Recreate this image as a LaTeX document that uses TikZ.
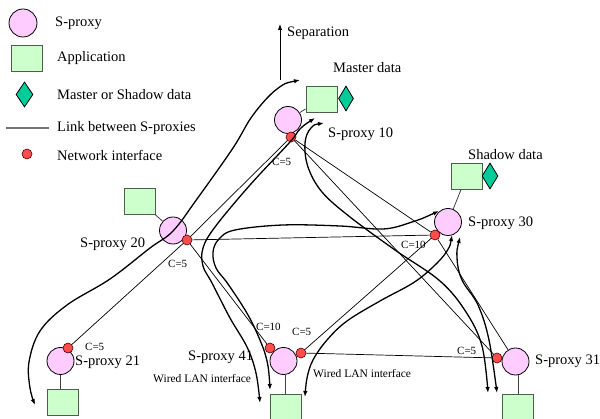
\documentclass[tikz,border=0pt]{standalone}
\usepackage{fontspec}
\setmainfont{Liberation Serif}
\usepackage{xcolor}
\usetikzlibrary{arrows.meta, shapes.geometric}
\definecolor{proxypink}{RGB}{255, 204, 255}
\definecolor{appgreen}{RGB}{204, 255, 204}
\definecolor{appedge}{RGB}{75, 95, 75}
\definecolor{datateal}{RGB}{0, 204, 153}
\definecolor{ifacered}{RGB}{255, 77, 77}

\begin{document}
\begin{tikzpicture}[x=1pt, y=-1pt,
  >={Latex[length=6pt, width=4.5pt]},
  proxy/.style={circle, draw=black, fill=proxypink, line width=0.8pt, minimum size=27pt, inner sep=0pt},
  appbox/.style={rectangle, draw=appedge, fill=appgreen, line width=0.9pt, minimum width=31pt, minimum height=26pt, inner sep=0pt},
  datatag/.style={diamond, draw=black, fill=datateal, line width=0.8pt, minimum width=16pt, minimum height=25pt, inner sep=0pt},
  iface/.style={circle, draw=black!70!red, fill=ifacered, line width=0.6pt, minimum size=10pt, inner sep=0pt},
  link/.style={draw=black, line width=0.7pt},
  appline/.style={draw=black!75, line width=0.8pt},
  flow/.style={draw=black, line width=1.3pt, <->},
  lbl/.style={anchor=west, inner sep=0pt, font=\fontsize{14.5}{16}\selectfont},
  costlbl/.style={anchor=west, inner sep=0pt, font=\fontsize{11}{12}\selectfont},
  lanlbl/.style={anchor=west, inner sep=0pt, font=\fontsize{11.5}{13}\selectfont}]
\useasboundingbox (0,0) rectangle (600,419);

% legend
\node[proxy, minimum size=28pt] (lgproxy) at (23,23) {};
\node[lbl] at (55,23) {S-proxy};
\node[appbox] (lgapp) at (26.5,58) {};
\node[lbl] at (57,58) {Application};
\node[datatag, minimum width=17pt] (lgdata) at (24.5,94.5) {};
\node[lbl] at (57,95) {Master or Shadow data};
\coordinate (lglinka) at (6,128);
\coordinate (lglinkb) at (49,128);
\draw[draw=black!55, line width=1.4pt] (lglinka) -- (lglinkb);
\node[lbl] at (57,128) {Link between S-proxies};
\node[iface] (lgiface) at (27,154) {};
\node[lbl] at (57,155) {Network interface};

% separation
\coordinate (sepfoot) at (280,80);
\coordinate (septop) at (280,24);
\draw[line width=0.9pt, ->] (sepfoot) -- (septop);
\node[lbl] at (287,33) {Separation};

% S-proxies and applications
\node[proxy] (p10) at (288,120) {};
\node[appbox] (a10) at (321.5,99) {};
\node[datatag, minimum width=15pt] (d10) at (346,98.5) {};
\node[lbl] at (333,68) {Master data};
\node[lbl] at (328,134) {S-proxy 10};

\node[proxy] (p20) at (173,230.5) {};
\node[appbox] (a20) at (140,201) {};
\node[lbl] at (80,244) {S-proxy 20};

\node[proxy] (p21) at (60.5,361) {};
\node[appbox] (a21) at (63,402) {};
\node[lbl] at (75,362) {S-proxy 21};

\node[proxy] (p30) at (448,222) {};
\node[appbox] (a30) at (466.5,176) {};
\node[datatag, minimum height=26pt] (d30) at (490,176) {};
\node[lbl] at (468,155) {Shadow data};
\node[lbl] at (468,223) {S-proxy 30};

\node[proxy] (p31) at (515.5,361.5) {};
\node[appbox] (a31) at (518,407) {};
\node[lbl] at (535,361) {S-proxy 31};

\node[proxy] (p41) at (283.5,361) {};
\node[appbox] (a41) at (285.5,407) {};
\node[lbl] at (188,357) {S-proxy 41};
\node[lanlbl] at (153,379) {Wired LAN interface};
\node[lanlbl] at (313,374) {Wired LAN interface};

\draw[appline] (p10) -- (a10);
\draw[appline] (p20) -- (a20);
\draw[appline] (p30) -- (a30);
\draw[appline] (p21.south) -- (p21.south |- a21.north);
\draw[appline] (a41.north |- p41.south) -- (a41.north);
\draw[appline] (a31.north |- p31.south) -- (a31.north);

% network interfaces
\node[iface] (n10) at (291,137) {};
\node[iface] (n20) at (187,240) {};
\node[iface] (n21) at (68,348) {};
\node[iface] (n30) at (435,235) {};
\node[iface] (n31) at (497,358) {};
\node[iface] (n41a) at (270,348) {};
\node[iface] (n41b) at (301,353) {};

% links between S-proxies
\draw[link] (n20) -- (n10);
\draw[link] (n20) -- (n21);
\draw[link] (n20) -- (n30);
\draw[link] (n20) -- (n41a);
\draw[link] (n10) -- (n30);
\draw[link] (n10) -- (n31);
\draw[link] (n30) -- (n41b);
\draw[link] (n30) -- (p31);
\draw[link] (n41b) -- (n31);

\node[costlbl] at (272,162) {C=5};
\node[costlbl] at (168,264) {C=5};
\node[costlbl] at (85,347) {C=5};
\node[costlbl] at (401,245) {C=10};
\node[costlbl] at (256,327) {C=10};
\node[costlbl] at (292,332) {C=5};
\node[costlbl] at (457,351) {C=5};

% separation paths
\coordinate (fA1) at (300,80);  \coordinate (fA2) at (35,405);
\coordinate (fB1) at (315,118); \coordinate (fB2) at (260,403);
\coordinate (fE1) at (439,211); \coordinate (fE2) at (270,390);
\coordinate (fD1) at (324,123); \coordinate (fD2) at (488,393);
\coordinate (fF1) at (460,237); \coordinate (fF2) at (497,393);
\coordinate (fG1) at (452,235); \coordinate (fG2) at (305,397);
\draw[flow] plot[smooth, tension=0.6] coordinates {(fA1) (277,89) (253,115) (233,148) (197,199) (173,231) (150,248) (110,279) (67,305) (40,331) (29,362) (30,388) (fA2)};
\draw[flow] plot[smooth, tension=0.6] coordinates {(fB1) (300,129) (290,142) (250,185) (215,227) (203,248) (203,266) (212,283) (230,318) (247,347) (256,373) (fB2)};
\draw[flow] plot[smooth, tension=0.6] coordinates {(fE1) (412,222) (383,229) (340,226) (283,225) (235,230) (219,239) (213,252) (216,268) (228,284) (248,315) (262,345) (268,366) (fE2)};
\draw[flow] plot[smooth, tension=0.6] coordinates {(fD1) (311,128) (305,143) (308,167) (322,192) (350,217) (395,250) (440,281) (466,312) (482,346) (fD2)};
\draw[flow] plot[smooth, tension=0.6] coordinates {(fF1) (457,258) (462,280) (478,305) (489,340) (fF2)};
\draw[flow] plot[smooth, tension=0.6] coordinates {(fG1) (447,251) (433,267) (413,283) (380,301) (347,321) (327,340) (313,360) (307,378) (fG2)};
\end{tikzpicture}
\end{document}
